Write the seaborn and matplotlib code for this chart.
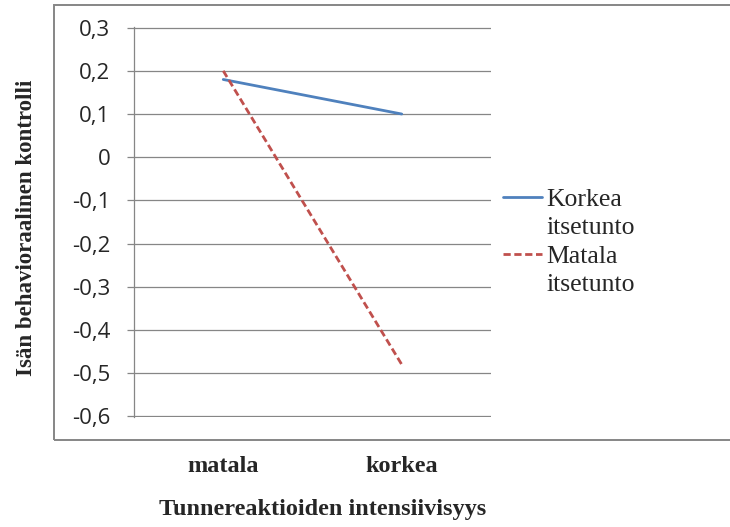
import pandas as pd
import matplotlib.pyplot as plt
import seaborn as sns
from matplotlib.lines import Line2D
from matplotlib.patches import Rectangle

# data
kategoriat = ['matala', 'korkea']
korkea_itsetunto = [0.18, 0.10]
matala_itsetunto = [0.20, -0.48]
y_tikit = [-0.6, -0.5, -0.4, -0.3, -0.2, -0.1, 0.0, 0.1, 0.2, 0.3]

df = pd.DataFrame({
    'Tunnereaktio': kategoriat * 2,
    'Arvo': korkea_itsetunto + matala_itsetunto,
    'Ryhmä': ['Korkea itsetunto'] * 2 + ['Matala itsetunto'] * 2,
})

sininen = '#4F81BD'
punainen = '#C0504D'
harmaa = '#868686'

sns.set_style('white')
plt.rcParams['font.family'] = ['Liberation Serif', 'DejaVu Serif']

fig = plt.figure(figsize=(7.3, 5.27), dpi=100)
ax = fig.add_axes([134 / 730, 1 - 417 / 527, 357 / 730, 390 / 527])

sns.lineplot(data=df, x='Tunnereaktio', y='Arvo', hue='Ryhmä', style='Ryhmä',
             palette={'Korkea itsetunto': sininen, 'Matala itsetunto': punainen},
             dashes={'Korkea itsetunto': '', 'Matala itsetunto': (2.6, 1.3)},
             linewidth=2.0, sort=False, legend=False, ax=ax)

ax.set_xlim(-0.5, 1.5)
ax.set_ylim(-0.6015, 0.3015)
ax.set_yticks(y_tikit)
ax.set_yticklabels([f'{v:.1f}'.replace('.', ',').replace('-0,0', '0').replace('0,0', '0')
                    for v in y_tikit], family='Open Sans', fontsize=16)
ax.set_xticks(range(len(kategoriat)))
ax.set_xticklabels(kategoriat, fontsize=17.5, fontweight='bold')

# excel-like grid and axes
ax.grid(axis='y', color=harmaa, linewidth=0.9)
ax.grid(axis='x', visible=False)
ax.set_axisbelow(True)
for s in ['top', 'right', 'bottom']:
    ax.spines[s].set_visible(False)
ax.spines['left'].set_color(harmaa)
ax.spines['left'].set_linewidth(0.9)
ax.tick_params(axis='y', length=5, width=0.9, color=harmaa, pad=12, left=True)
ax.tick_params(axis='x', length=0, pad=28)

ax.set_xlabel('Tunnereaktioiden intensiivisyys', fontsize=17.5, fontweight='bold')
ax.set_ylabel('Isän behavioraalinen kontrolli', fontsize=16.5, fontweight='bold')
ax.xaxis.set_label_coords(0.527, -0.21)
ax.yaxis.set_label_coords(-0.272, 0.485)

# legend with the handle on the first line (as in Excel)
tyhja = Line2D([], [], linestyle='none')
kahvat = [Line2D([], [], color=sininen, lw=2.0), tyhja,
          Line2D([], [], color=punainen, lw=2.0, dashes=(2.6, 1.3)), tyhja]
tekstit = ['Korkea', 'itsetunto', 'Matala', 'itsetunto']
fig.legend(kahvat, tekstit, loc='center left', bbox_to_anchor=(503 / 730, 1 - 242 / 527),
           frameon=False, fontsize=18.5, handlelength=1.5, handletextpad=0.2,
           labelspacing=0.2, borderaxespad=0, borderpad=0)

# outer chart frame
fig.patches.append(Rectangle((54 / 730, 1 - 440 / 527), 1.0, 435 / 527,
                             transform=fig.transFigure, fill=False,
                             edgecolor=harmaa, linewidth=1.4))

fig.savefig('out.png', dpi=100)
